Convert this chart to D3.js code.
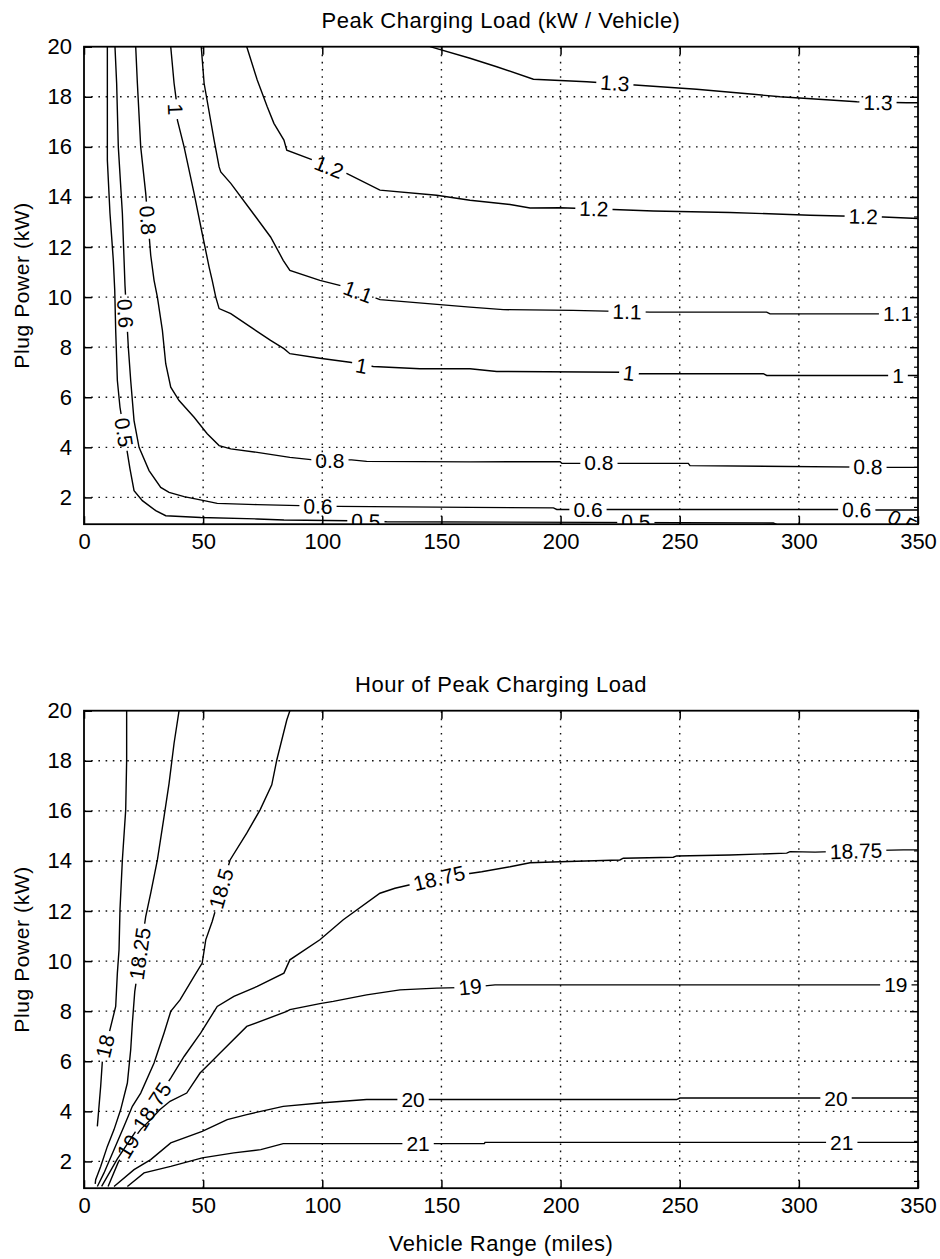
<!DOCTYPE html>
<html lang="en">
<head>
<meta charset="UTF-8">
<title>Peak Charging Load</title>
<script src="https://d3js.org/d3.v7.min.js"></script>
<style>
  body { margin: 0; background: #fff; }
  svg { display: block; }
</style>
</head>
<body>
<svg id="chart" width="940" height="1259"></svg>
<script>
// ---- axes ----
const xTicks = [0, 50, 100, 150, 200, 250, 300, 350];
const yTicks = [2, 4, 6, 8, 10, 12, 14, 16, 18, 20];
const xDomain = [0, 350];
const yDomain = [0.93, 20];

// ---- top panel: peak charging load (kW / vehicle) ----
const topLevels = [0.5, 0.6, 0.8, 1, 1.1, 1.2, 1.3];
const top05 = [[9.8,20],[9.8,15.47],[10.9,13.35],[12.3,11.47],[12.9,10.27],[13.3,8.67],[14.0,6.67],[15.1,5.6],[19.3,3.14],[21.0,2.27],[24.5,1.87],[30.1,1.47],[34.3,1.27],[49.0,1.2],[72.7,1.14],[83.9,1.1],[111.6,1.07],[127,1.03],[289.3,0.98],[291,0.9]];
const top06 = [[13.0,20],[13.7,18.54],[14.4,16.0],[16.1,13.35],[17.2,10.47],[18.6,8.0],[19.6,6.67],[21.0,5.07],[23.1,4.0],[27.3,3.07],[32.2,2.4],[35.7,2.2],[42.0,2.03],[50.4,1.87],[55.9,1.76],[72.7,1.71],[90.6,1.67],[106.7,1.64],[162,1.6],[197,1.58],[198.4,1.52],[317.3,1.52],[332.7,1.5],[350,1.5]];
const top08 = [[21.7,20],[22.4,18.54],[23.8,16.0],[25.9,14.14],[28.0,11.67],[29.4,10.67],[30.8,10.0],[32.9,8.67],[34.3,7.34],[36.4,6.4],[39.9,5.87],[46.2,5.2],[51.7,4.54],[56.7,4.07],[61.6,3.94],[72.7,3.8],[86.4,3.6],[96.2,3.5],[112.3,3.5],[118.6,3.44],[162,3.42],[199.8,3.43],[200.5,3.36],[253.6,3.36],[254.3,3.27],[338.2,3.2],[350,3.2]];
const top10 = [[36.4,20],[37.8,18.54],[38.9,17.74],[39.2,17.07],[42.0,16.0],[46.2,14.14],[49.6,12.54],[52.5,11.2],[53.8,10.67],[55.3,10.0],[56.7,9.54],[61.6,9.34],[70.0,8.8],[78.3,8.27],[83.9,7.94],[86.4,7.74],[99.0,7.56],[111.6,7.4],[121.4,7.23],[141,7.14],[162,7.14],[173.2,7.03],[226.3,7.0],[231.9,6.94],[285.1,6.94],[286.5,6.87],[350,6.87]];
const top11 = [[49.2,20],[50.4,18.54],[54.6,16.27],[56.7,15.2],[57.4,15.0],[61.6,14.54],[70.0,13.47],[78.3,12.4],[83.6,11.47],[86.4,11.07],[99.0,10.67],[110.2,10.4],[124.2,9.9],[162,9.6],[176,9.5],[205.3,9.47],[237.5,9.4],[286.5,9.4],[287.9,9.33],[350,9.33]];
const top12 = [[68.3,20],[72.7,18.67],[76.9,17.6],[79.7,16.94],[83.9,16.27],[85.1,15.87],[96.2,15.47],[110.2,14.94],[124.2,14.27],[148,14.07],[162,13.87],[178.8,13.7],[187.2,13.56],[199.8,13.57],[222.1,13.5],[238.9,13.44],[271.1,13.38],[304.7,13.27],[335.4,13.2],[350,13.14]];
const top13 = [[145.2,20],[162,19.54],[173.2,19.2],[188.6,18.7],[211,18.6],[231.2,18.47],[257.1,18.3],[280.9,18.1],[292.1,18.0],[301.9,17.94],[324.3,17.8],[345.2,17.76],[350,17.76]];
const topLab05 = [[16.8,4.6],[118.3,1.05],[231.6,1.03],[343.5,1.04]];
const topLab06 = [[17.3,9.35],[98.2,1.65],[211.5,1.52],[324.3,1.51]];
const topLab08 = [[26.8,13.07],[103.2,3.48],[216.1,3.38],[329,3.23]];
const topLab10 = [[38.4,17.5],[116.5,7.26],[228.7,6.97],[341.6,6.87]];
const topLab11 = [[115,10.22],[227.9,9.42],[341.4,9.33]];
const topLab12 = [[102.8,15.2],[214,13.53],[327,13.22]];
const topLab13 = [[222.8,18.55],[333.2,17.77]];

// ---- bottom panel: hour of peak charging load ----
const botLevels = [18, 18.25, 18.5, 18.75, 19, 20, 21];
const bot18 = [[17.9,20],[17.9,18.03],[17.5,16.04],[16.1,14.04],[15.1,12.05],[14.7,10.45],[14.0,9.52],[13.3,8.19],[10.9,7.26],[7.7,6.0],[7.0,5.0],[5.6,3.4]];
const bot1825 = [[39.9,20],[37.8,18.7],[35.7,17.1],[33.6,15.77],[30.8,14.04],[28.0,12.71],[25.9,11.78],[21.3,8.78],[20.3,7.53],[19.6,6.46],[18.2,5.13],[15.4,4.07],[12.6,3.27],[9.8,2.6],[7.0,1.8],[4.9,1.27],[4.7,1.1]];
const bot185 = [[86.4,20],[85.1,19.63],[80.9,18.03],[78.8,17.04],[73.9,16.04],[68.3,15.11],[61.3,14.04],[53.8,11.58],[51.1,10.85],[49.6,9.92],[46.2,9.39],[40.3,8.45],[36.4,7.99],[33.6,7.13],[29.4,5.93],[23.8,4.73],[20.3,4.2],[16.8,3.4],[8.4,1.54],[5.6,1.0]];
const bot1875 = [[7.4,1.0],[14,2.1],[21.0,3.1],[28.5,4.2],[36.4,5.33],[42.0,6.19],[49.0,7.13],[55.9,8.19],[62.9,8.59],[72.7,8.99],[83.9,9.52],[86.4,10.05],[99.0,10.85],[108.8,11.65],[124.2,12.71],[130.5,12.91],[149,13.32],[166.9,13.57],[178.8,13.77],[187.2,13.93],[199.8,13.97],[224.9,14.04],[226.3,14.11],[247.3,14.15],[248.7,14.2],[271.1,14.24],[294.9,14.31],[296.3,14.37],[306.8,14.35],[324,14.4],[343.8,14.44],[350,14.44]];
const bot19 = [[10.1,1.0],[14.3,1.95],[18.5,2.6],[24,3.3],[28.0,3.67],[31.9,4.07],[36.1,4.4],[43.1,4.73],[48.7,5.53],[54.3,6.06],[57.1,6.33],[68.3,7.39],[85.1,7.99],[86.4,8.06],[99.0,8.3],[104.6,8.39],[118.6,8.65],[132.6,8.85],[148,8.92],[162,8.95],[172.5,9.05],[334.8,9.05],[350,9.05]];
const bot20 = [[12.6,1.0],[21.0,1.67],[28.0,2.07],[36.4,2.74],[49.6,3.2],[60.1,3.67],[68.3,3.87],[74.2,4.0],[83.6,4.2],[99.0,4.33],[118.6,4.47],[248.7,4.47],[250.1,4.53],[350,4.53]];
const bot21 = [[18.2,1.0],[25.2,1.54],[36.4,1.8],[49.6,2.14],[62.9,2.34],[74.2,2.47],[83.6,2.71],[168,2.71],[168.3,2.76],[350,2.76]];
const botLab18 = [[8.8,6.6]];
const botLab1825 = [[23.4,10.3]];
const botLab185 = [[57.5,12.9]];
const botLab1875 = [[28.5,4.2],[149,13.32],[324,14.4]];
const botLab19 = [[18.5,2.6],[162,8.97],[340.7,9.05]];
const botLab20 = [[138.1,4.47],[315.6,4.53]];
const botLab21 = [[140.2,2.71],[318,2.76]];

const topLines = [top05, top06, top08, top10, top11, top12, top13];
const topLabs = [topLab05, topLab06, topLab08, topLab10, topLab11, topLab12, topLab13];
const botLines = [bot18, bot1825, bot185, bot1875, bot19, bot20, bot21];
const botLabs = [botLab18, botLab1825, botLab185, botLab1875, botLab19, botLab20, botLab21];

const font = '"Liberation Sans", Arial, Helvetica, sans-serif';
const svg = d3.select("#chart");
const left = 84, plotW = 834, plotH = 477.5;

function labelAngle(pts, px, py) {
  // direction of the nearest segment, kept readable
  let best = Infinity, ang = 0;
  for (let i = 1; i < pts.length; i++) {
    const [ax, ay] = pts[i - 1], [bx, by] = pts[i];
    const dx = bx - ax, dy = by - ay;
    const len2 = dx * dx + dy * dy || 1;
    let t = ((px - ax) * dx + (py - ay) * dy) / len2;
    t = Math.max(0, Math.min(1, t));
    const qx = ax + t * dx - px, qy = ay + t * dy - py;
    const d = qx * qx + qy * qy;
    if (d < best) { best = d; ang = Math.atan2(dy, dx) * 180 / Math.PI; }
  }
  if (ang > 90) ang -= 180;
  if (ang <= -90) ang += 180;
  return ang;
}

function drawPanel(idx, top, title, levels, lines, labs, xLabel) {
  const x = d3.scaleLinear().domain(xDomain).range([left, left + plotW]);
  const y = d3.scaleLinear().domain(yDomain).range([top + plotH, top]);
  const defs = svg.append("defs");
  const clipId = "clip" + idx;
  defs.append("clipPath").attr("id", clipId)
    .append("rect").attr("x", left).attr("y", top).attr("width", plotW).attr("height", plotH);

  // grid (dotted)
  const grid = svg.append("g").attr("stroke", "#111").attr("stroke-width", 1.4)
    .attr("stroke-dasharray", "1.6,5.6");
  grid.selectAll("line.gx").data(xTicks.filter(d => d > xDomain[0] && d < xDomain[1]))
    .enter().append("line")
    .attr("x1", d => x(d)).attr("x2", d => x(d))
    .attr("y1", top + plotH).attr("y2", top);
  grid.selectAll("line.gy").data(yTicks.filter(d => d < yDomain[1]))
    .enter().append("line")
    .attr("y1", d => y(d)).attr("y2", d => y(d))
    .attr("x1", left).attr("x2", left + plotW);

  // contour labels first (so they can be measured for the line gaps)
  const lineGen = d3.line().x(d => x(d[0])).y(d => y(d[1]));
  const labG = svg.append("g").attr("clip-path", `url(#${clipId})`);
  const lineG = svg.append("g").attr("clip-path", `url(#${clipId})`);

  lines.forEach((pts, i) => {
    const scr = pts.map(p => [x(p[0]), y(p[1])]);
    const maskId = `m${idx}_${i}`;
    const mask = defs.append("mask").attr("id", maskId)
      .attr("maskUnits", "userSpaceOnUse")
      .attr("x", 0).attr("y", 0).attr("width", 940).attr("height", 1259);
    mask.append("rect").attr("x", 0).attr("y", 0).attr("width", 940).attr("height", 1259).attr("fill", "#fff");

    labs[i].forEach(l => {
      const px = x(l[0]), py = y(l[1]);
      const a = labelAngle(scr, px, py);
      const t = labG.append("text")
        .attr("transform", `translate(${px},${py}) rotate(${a})`)
        .attr("text-anchor", "middle")
        .attr("dominant-baseline", "central")
        .attr("font-family", font)
        .attr("font-size", 21)
        .attr("fill", "#000")
        .text(String(levels[i]));
      const w = t.node().getComputedTextLength() + 8;
      mask.append("rect")
        .attr("x", -w / 2).attr("y", -8).attr("width", w).attr("height", 16)
        .attr("transform", `translate(${px},${py}) rotate(${a})`)
        .attr("fill", "#000");
    });

    lineG.append("path")
      .datum(pts)
      .attr("d", lineGen)
      .attr("fill", "none")
      .attr("stroke", "#000")
      .attr("stroke-width", 1.4)
      .attr("mask", `url(#${maskId})`);
  });

  // axes, ticks point inward on all four sides
  const styleAxis = g => {
    g.select(".domain").remove();
    g.selectAll("line").attr("stroke", "#000").attr("stroke-width", 1.5);
    g.selectAll("text").attr("font-family", font).attr("font-size", 22).attr("fill", "#000");
  };
  svg.append("g").attr("transform", `translate(0,${top + plotH})`)
    .call(d3.axisBottom(x).tickValues(xTicks).tickSizeInner(-8).tickSizeOuter(0).tickPadding(9))
    .call(styleAxis);
  svg.append("g").attr("transform", `translate(0,${top})`)
    .call(d3.axisTop(x).tickValues(xTicks).tickSizeInner(-8).tickSizeOuter(0).tickFormat(""))
    .call(styleAxis);
  svg.append("g").attr("transform", `translate(${left},0)`)
    .call(d3.axisLeft(y).tickValues(yTicks).tickSizeInner(-8).tickSizeOuter(0).tickPadding(12))
    .call(styleAxis);
  svg.append("g").attr("transform", `translate(${left + plotW},0)`)
    .call(d3.axisRight(y).tickValues(yTicks).tickSizeInner(-8).tickSizeOuter(0).tickFormat(""))
    .call(styleAxis);
  // minor ticks on the right edge
  const minor = d3.range(1.2, 20, 0.4).filter(v => Math.abs(v / 2 - Math.round(v / 2)) > 0.01);
  svg.append("g").attr("stroke", "#000").attr("stroke-width", 1.2)
    .selectAll("line").data(minor).enter().append("line")
    .attr("x1", left + plotW).attr("x2", left + plotW - 4)
    .attr("y1", d => y(d)).attr("y2", d => y(d));

  // frame
  svg.append("rect").attr("x", left).attr("y", top).attr("width", plotW).attr("height", plotH)
    .attr("fill", "none").attr("stroke", "#000").attr("stroke-width", 1.8);

  // texts
  svg.append("text").attr("x", left + plotW / 2).attr("y", top - 18.5)
    .attr("text-anchor", "middle").attr("font-family", font).attr("font-size", 22)
    .attr("letter-spacing", 0.5).text(title);
  svg.append("text")
    .attr("transform", `translate(29,${top + plotH / 2}) rotate(-90)`)
    .attr("text-anchor", "middle").attr("font-family", font).attr("font-size", 21)
    .attr("letter-spacing", 0.6).text("Plug Power (kW)");
  if (xLabel) {
    svg.append("text").attr("x", left + plotW / 2).attr("y", top + plotH + 63)
      .attr("text-anchor", "middle").attr("font-family", font).attr("font-size", 22)
      .attr("letter-spacing", 0.5).text(xLabel);
  }
}

drawPanel(0, 46.7, "Peak Charging Load (kW / Vehicle)", topLevels, topLines, topLabs, null);
drawPanel(1, 710.7, "Hour of Peak Charging Load", botLevels, botLines, botLabs, "Vehicle Range (miles)");
</script>
</body>
</html>
